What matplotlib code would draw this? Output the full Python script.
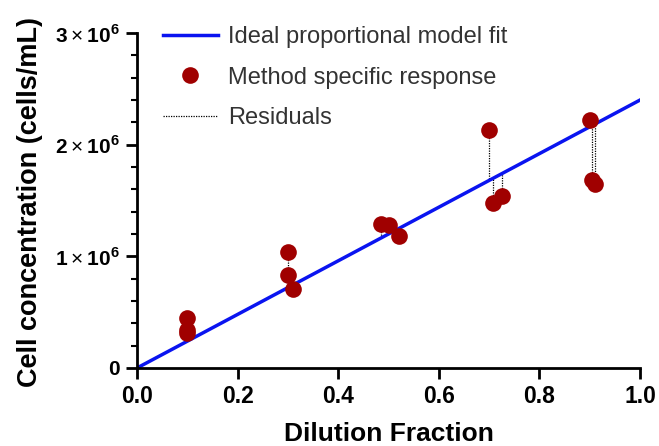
import matplotlib
matplotlib.use("Agg")
import matplotlib.pyplot as plt
from matplotlib.ticker import MultipleLocator, FuncFormatter
import numpy as np

plt.rcParams['font.family'] = ['Liberation Sans', 'DejaVu Sans']
plt.rcParams['mathtext.fontset'] = 'custom'
plt.rcParams['mathtext.rm'] = 'Liberation Sans'
plt.rcParams['mathtext.bf'] = 'Liberation Sans:bold'

# data
dilution = [0.10, 0.10, 0.10, 0.30, 0.30, 0.31, 0.485, 0.50, 0.52,
            0.70, 0.708, 0.726, 0.90, 0.905, 0.91]
concentration = [0.45e6, 0.34e6, 0.31e6, 1.04e6, 0.83e6, 0.71e6,
                 1.29e6, 1.28e6, 1.18e6, 2.13e6, 1.48e6, 1.54e6,
                 2.22e6, 1.68e6, 1.65e6]
slope = 2.4e6
fit_x = [0.0, 1.0]

fig = plt.figure(figsize=(6.59, 4.46), dpi=100)
ax = fig.add_axes([0.2079, 0.1749, 0.7633, 0.751])

fit_y = [slope * v for v in fit_x]
ax.plot(fit_x, fit_y, color='#0a14f0', lw=2.5, zorder=2,
        label='Ideal proportional model fit')
ax.plot(dilution, concentration, 'o', color='#a00000', ms=12, mec='none',
        zorder=3, label='Method specific response')
for i, (xv, yv) in enumerate(zip(dilution, concentration)):
    ax.plot([xv, xv], [yv, slope * xv], color='black', ls=(0, (1, 1)), lw=0.9,
            zorder=1, label='Residuals' if i == 0 else None)

ax.set_xlim(0, 1.0)
ax.set_ylim(0, 3e6)
ax.xaxis.set_major_locator(MultipleLocator(0.2))
ax.yaxis.set_major_locator(MultipleLocator(1e6))
ax.yaxis.set_minor_locator(MultipleLocator(0.2e6))

def yfmt(v, pos):
    n = int(round(v / 1e6))
    if n == 0:
        return r'$\mathbf{0}$'
    return r'$\mathbf{%d}\times\mathbf{10}^{\mathbf{6}}$' % n

ax.yaxis.set_major_formatter(FuncFormatter(yfmt))
ax.xaxis.set_major_formatter(FuncFormatter(lambda v, p: '%.1f' % v))

for s in ['top', 'right']:
    ax.spines[s].set_visible(False)
for s in ['left', 'bottom']:
    ax.spines[s].set_linewidth(2)
ax.tick_params(axis='x', which='major', width=2, length=8, labelsize=16.5, pad=4)
ax.tick_params(axis='y', which='major', width=2, length=8, labelsize=15, pad=4)
ax.tick_params(axis='y', which='minor', width=1.5, length=4)
for lab in ax.get_xticklabels():
    lab.set_fontweight('bold')

ax.set_xlabel('Dilution Fraction', fontsize=19, fontweight='bold', labelpad=10)
ax.set_ylabel('Cell concentration (cells/mL)', fontsize=19.5, fontweight='bold')
ax.yaxis.set_label_coords(-0.186, 0.497)

leg = ax.legend(loc='upper left', bbox_to_anchor=(0.018, 1.07), frameon=False,
                fontsize=17, labelspacing=0.78, handlelength=2.33,
                handletextpad=0.45, numpoints=1, borderaxespad=0.3)
for t in leg.get_texts():
    t.set_color('#333333')

fig.savefig('out.png', dpi=100)
